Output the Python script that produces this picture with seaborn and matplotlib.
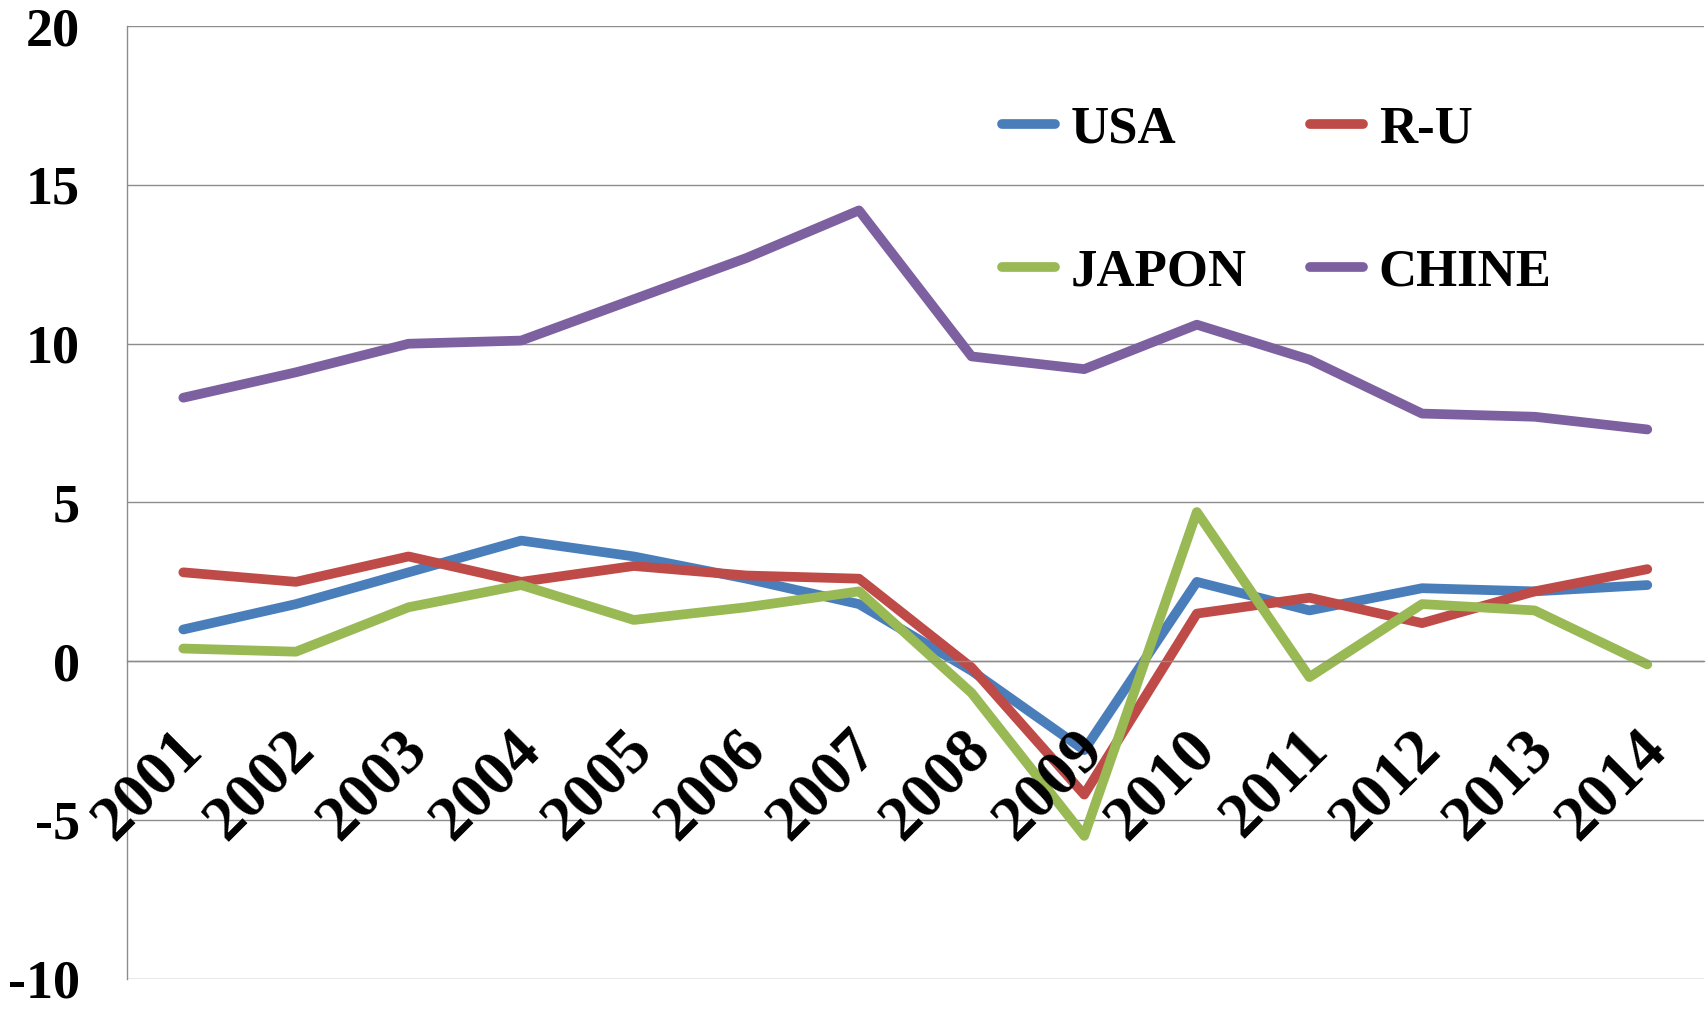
import pandas as pd
import seaborn as sns
import matplotlib.pyplot as plt
from matplotlib import transforms

# données
annees = list(range(2001, 2015))
usa = [1.0, 1.8, 2.8, 3.8, 3.3, 2.6, 1.8, -0.3, -2.8, 2.5, 1.6, 2.3, 2.2, 2.4]
ru = [2.8, 2.5, 3.3, 2.5, 3.0, 2.7, 2.6, -0.2, -4.2, 1.5, 2.0, 1.2, 2.2, 2.9]
japon = [0.4, 0.3, 1.7, 2.4, 1.3, 1.7, 2.2, -1.0, -5.5, 4.7, -0.5, 1.8, 1.6, -0.1]
chine = [8.3, 9.1, 10.0, 10.1, 11.4, 12.7, 14.2, 9.6, 9.2, 10.6, 9.5, 7.8, 7.7, 7.3]
pays = ['USA', 'R-U', 'JAPON', 'CHINE']
couleurs = ['#4A7EBB', '#BE4B48', '#98B954', '#7D60A0']
yticks = [-10, -5, 0, 5, 10, 15, 20]

df = pd.DataFrame({'annee': annees, 'USA': usa, 'R-U': ru, 'JAPON': japon, 'CHINE': chine})
df = df.melt(id_vars='annee', var_name='pays', value_name='valeur')

sns.set_style('white')
plt.rcParams['font.family'] = ['Liberation Serif', 'DejaVu Serif']
plt.rcParams['font.weight'] = 'bold'
plt.rcParams['axes.unicode_minus'] = False
plt.rcParams['text.color'] = 'black'

fig, ax = plt.subplots(figsize=(17.07, 10.09), dpi=100)
fig.subplots_adjust(left=0.0744, right=0.998, top=0.974, bottom=0.03)

sns.lineplot(data=df, x='annee', y='valeur', hue='pays', hue_order=pays,
             palette=couleurs, linewidth=7, errorbar=None, ax=ax)
for line in ax.get_lines():
    line.set_solid_capstyle('round')
    line.set_solid_joinstyle('round')

gris = '#8c8c8c'
ax.set_xlim(2000.5, 2014.5)
ax.set_ylim(-10, 20)
ax.set_yticks(yticks)
ax.set_xticks(annees)
ax.set_xlabel('')
ax.set_ylabel('')
ax.yaxis.grid(True, color=gris, linewidth=1.0)
ax.set_axisbelow(True)
for s in ['top', 'right']:
    ax.spines[s].set_visible(False)
ax.spines['left'].set_color(gris)
ax.spines['left'].set_linewidth(1.0)
ax.spines['bottom'].set_position(('data', 0))
ax.spines['bottom'].set_color(gris)
ax.spines['bottom'].set_linewidth(1.0)
ax.tick_params(axis='y', length=0, pad=34, labelsize=39, labelcolor='black')
ax.tick_params(axis='x', length=0, pad=57, labelsize=46, labelcolor='black')
ax.xaxis.set_zorder(5)

# étiquettes des années inclinées à 45°
ax.set_xticklabels([str(a) for a in annees])
decal = transforms.ScaledTranslation(0.10, 0, fig.dpi_scale_trans)
for lab in ax.get_xticklabels():
    lab.set_rotation(45)
    lab.set_ha('right')
    lab.set_va('center')
    lab.set_rotation_mode('anchor')
    lab.set_transform(lab.get_transform() + decal)

# légende sur deux colonnes : USA R-U / JAPON CHINE
handles, labels = ax.get_legend_handles_labels()
ordre = [0, 2, 1, 3]
leg = ax.legend([handles[i] for i in ordre], [labels[i] for i in ordre], ncol=2,
                loc='upper left', bbox_to_anchor=(0.587, 0.895),
                bbox_transform=fig.transFigure, frameon=False, labelcolor='black',
                prop={'family': 'Liberation Serif', 'weight': 'bold', 'size': 38},
                handlelength=1.0, handletextpad=0.3, columnspacing=1.2,
                labelspacing=1.8, borderpad=0, borderaxespad=0)
for line in leg.get_lines():
    line.set_solid_capstyle('round')
    line.set_linewidth(7)

fig.savefig('out.png', dpi=100)
